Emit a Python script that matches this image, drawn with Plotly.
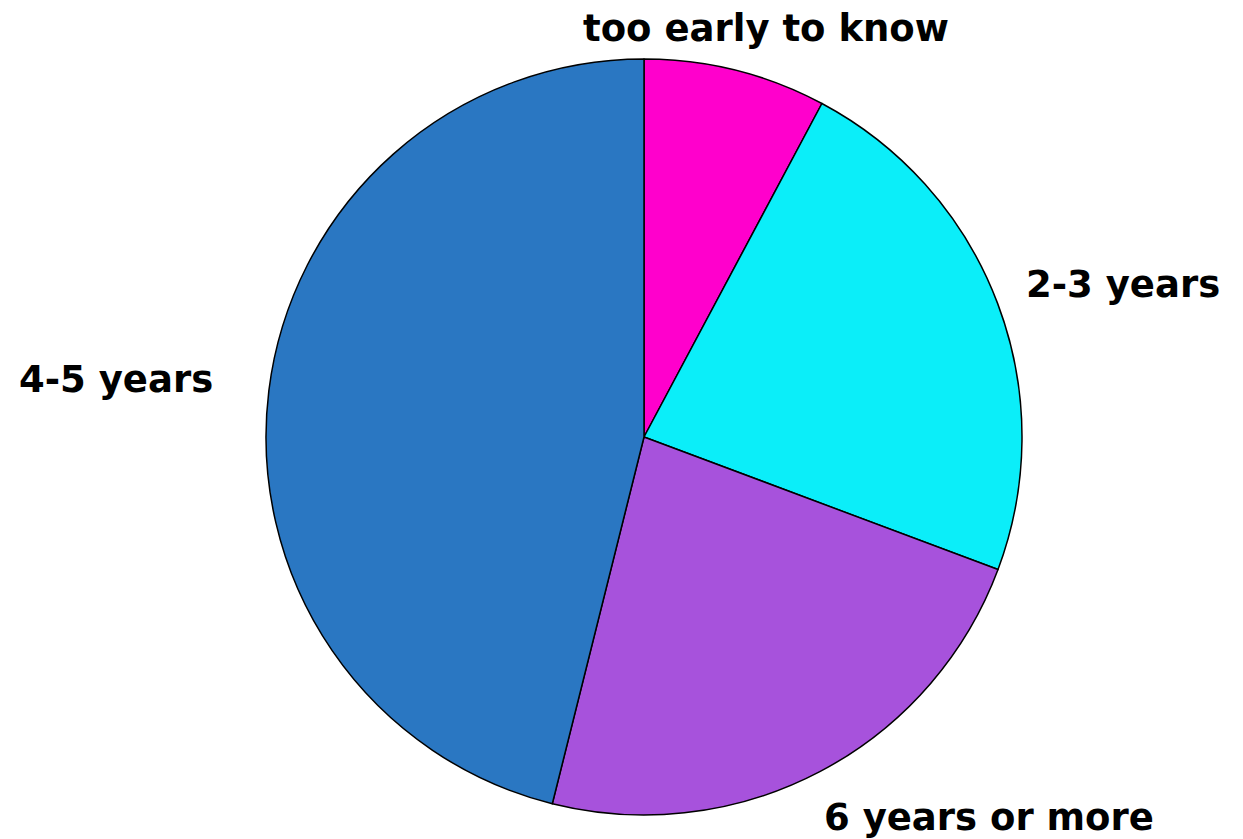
import math
import plotly.graph_objects as go

labels = ["too early to know", "2-3 years", "6 years or more", "4-5 years"]
values = [7.8, 22.9, 23.2, 46.1]
colors = ["#FF00CC", "#0BEEF9", "#A752DC", "#2A77C2"]

fig = go.Figure(go.Pie(
    labels=labels,
    values=values,
    sort=False,
    direction="clockwise",
    rotation=0,
    textinfo="none",
    marker=dict(colors=colors, line=dict(color="black", width=1.5)),
    showlegend=False,
    hoverinfo="label+percent",
    domain=dict(x=[0, 1], y=[0, 1]),
))

# labels placed outside the pie at each slice's mid-angle
total = sum(values)
cum = 0.0
k = 1.138  # label distance relative to radius
for lab, v in zip(labels, values):
    mid = (cum + v / 2) / total * 2 * math.pi
    cum += v
    s, c = math.sin(mid), math.cos(mid)
    yshift = 0
    if s > 0.3:
        xanchor, xshift = "left", -22
    elif s < -0.3:
        xanchor, xshift, yshift = "right", -2, 5
    else:
        xanchor, xshift, yshift = "center", 18, -9
    fig.add_annotation(
        x=0.5 + 0.5 * k * s, y=0.5 + 0.5 * k * c,
        xref="paper", yref="paper",
        text=lab, showarrow=False,
        xanchor=xanchor, yanchor="middle", xshift=xshift, yshift=yshift,
        font=dict(family="DejaVu Sans", size=37, color="black", weight="bold"),
    )

fig.update_layout(
    width=1243, height=839,
    margin=dict(l=258, r=229, t=51, b=32),
    paper_bgcolor="white",
    plot_bgcolor="white",
)
fig.write_html("out.html")
